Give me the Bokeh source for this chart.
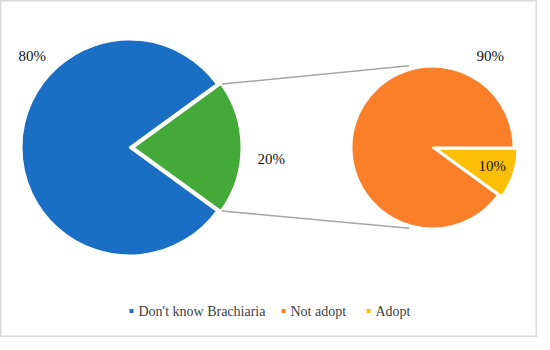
import numpy as np
from bokeh.plotting import figure
from bokeh.models import Range1d
from bokeh.embed import file_html
from bokeh.resources import INLINE
from bokeh.core.properties import value

# ---- data ----
main_labels = ["Don't know Brachiaria", "Know Brachiaria"]
main_values = [80, 20]
sub_labels = ["Not adopt", "Adopt"]
sub_values = [90, 10]
legend_labels = ["Don't know Brachiaria", "Not adopt", "Adopt"]

# ---- styles / layout ----
main_colors = ["#1a6fc4", "#43aa3a"]
sub_colors = ["#fb7e28", "#fdbf05"]
legend_colors = ["#1a6fc4", "#fb7e28", "#fdbf05"]
FONT = "Liberation Serif"

W, H = 537, 337
PH = 350  # page height used to flip page coordinates into data coordinates


def py(y):
    return PH - y


p = figure(width=W, height=H, x_range=Range1d(8, 8 + W), y_range=Range1d(PH - 8 - H, PH - 8),
           output_backend="svg", toolbar_location=None, min_border=0,
           x_axis_type=None, y_axis_type=None)
p.grid.visible = False
p.outline_line_color = "#d9d9d9"
p.outline_line_width = 2
p.background_fill_color = "white"
p.border_fill_color = "white"

# ---- main pie ----
cx1, cy1, r1 = 137, py(155), 108
explode = 4
tot1 = sum(main_values)
half = np.pi * main_values[1] / tot1
starts1 = [half, -half]
ends1 = [2 * np.pi - half, half]
xs1 = [cx1, cx1 + explode]
p.wedge(x=xs1, y=[cy1, cy1], radius=r1, start_angle=starts1, end_angle=ends1,
        fill_color=main_colors, line_color="white", line_width=2)

# ---- secondary pie ----
cx2, cy2, r2 = 440, py(155), 81
tot2 = sum(sub_values)
a_small = 2 * np.pi * sub_values[1] / tot2
starts2 = [0.0, -a_small]
ends2 = [2 * np.pi - a_small, 0.0]
mid = -a_small / 2
xs2 = [cx2, cx2 + explode * np.cos(mid)]
ys2 = [cy2, cy2 + explode * np.sin(mid)]
p.wedge(x=xs2, y=ys2, radius=r2, start_angle=starts2, end_angle=ends2,
        fill_color=sub_colors, line_color="white", line_width=2)

# ---- connector lines ----
gx = cx1 + explode + r1 * np.cos(half)
gy_up = cy1 + r1 * np.sin(half)
gy_dn = cy1 - r1 * np.sin(half)
ang = np.deg2rad(106)
ex_up = cx2 + (r2 + 4) * np.cos(ang)
ey_up = cy2 + (r2 + 4) * np.sin(ang)
ex_dn = cx2 + (r2 + 3) * np.cos(-ang)
ey_dn = cy2 + (r2 + 3) * np.sin(-ang)
p.segment(x0=[gx + 1, gx + 1], y0=[gy_up, gy_dn], x1=[ex_up, ex_dn], y1=[ey_up, ey_dn],
          line_color="#a6a6a6", line_width=1.5)

# ---- percentage labels (left / bottom anchored) ----
pct_text = [f"{v}%" for v in main_values] + [f"{v}%" for v in sub_values]
pct_x = [26, 265, 484, 486]
pct_y = [py(71.5), py(174), py(71.5), py(181.5)]
p.text(x=pct_x, y=pct_y, text=pct_text, text_font=value(FONT), text_font_size="15px",
       text_color="#111111")

# ---- legend ----
leg_mx = [139, 291, 376]
leg_sy = [py(318.5)] * 3
leg_ty = [py(326)] * 3
p.scatter(x=leg_mx, y=leg_sy, marker="square", size=4, fill_color=legend_colors,
          line_color=None)
p.text(x=[m + 7 for m in leg_mx], y=leg_ty, text=legend_labels, text_font=value(FONT),
       text_font_size="14px", text_color="#404040")

open("out.html", "w").write(file_html(p, INLINE))
